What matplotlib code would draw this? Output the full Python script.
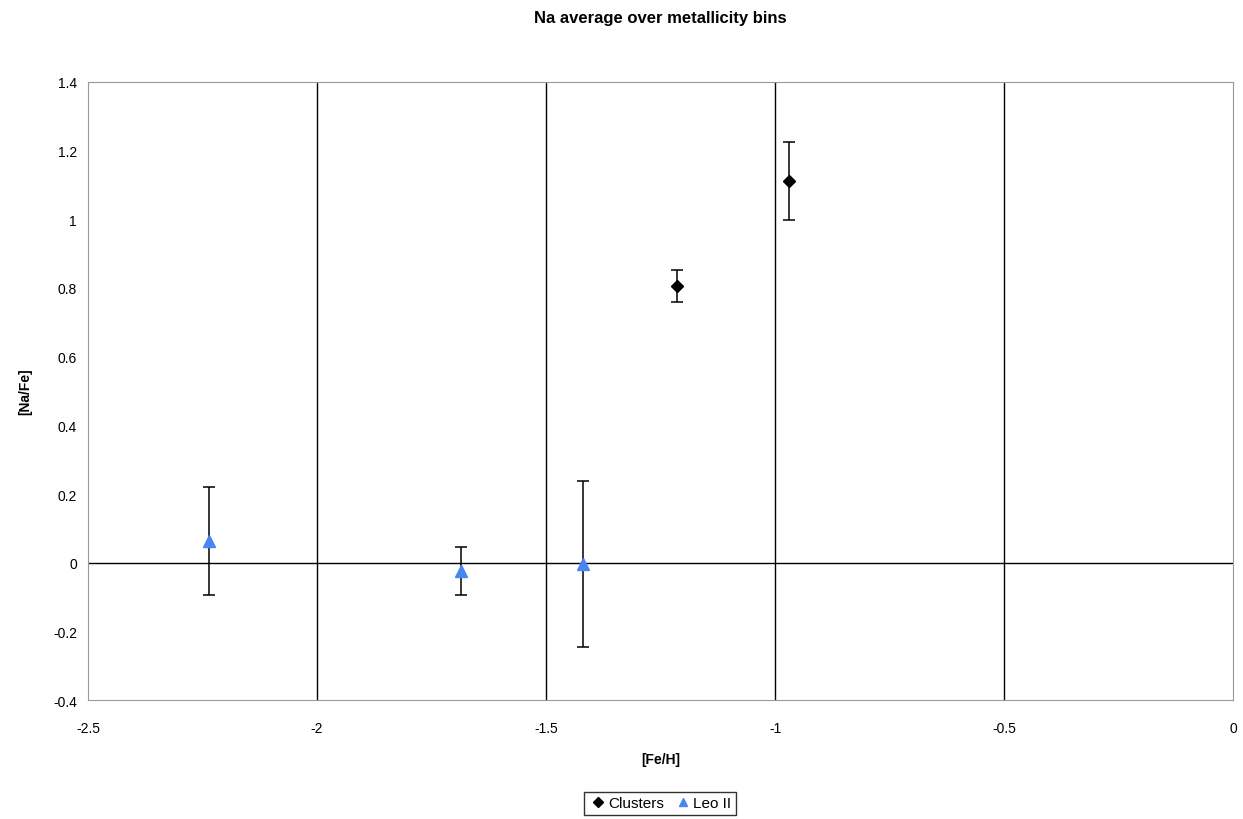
import numpy as np
import matplotlib
matplotlib.use("Agg")
from matplotlib import pyplot as plt

plt.rcParams['font.family'] = ['Liberation Sans', 'DejaVu Sans']

# Clusters
cl_feh = [-1.214, -0.969]
cl_na = [0.806, 1.112]
cl_err = [0.047, 0.114]

# Leo II
leo_feh = [-2.236, -1.686, -1.419]
leo_na = [0.064, -0.025, -0.005]
leo_err = [0.157, 0.070, 0.242]

fig = plt.figure(figsize=(12.43, 8.20), dpi=100)
ax = fig.add_axes([0.0708, 0.1451, 0.9212, 0.7537])

ax.set_xlim(-2.5, 0)
ax.set_ylim(-0.4, 1.4)
ax.set_xticks(np.arange(-2.5, 0.01, 0.5))
ax.set_yticks(np.arange(-0.4, 1.41, 0.2))
ax.set_xticklabels(["-2.5", "-2", "-1.5", "-1", "-0.5", "0"])
ax.set_yticklabels(["-0.4", "-0.2", "0", "0.2", "0.4", "0.6", "0.8", "1", "1.2", "1.4"])

for x in [-2, -1.5, -1, -0.5]:
    ax.axvline(x, color="black", lw=1.0, zorder=1)
ax.axhline(0, color="black", lw=1.0, zorder=1)

for s in ax.spines.values():
    s.set_color("#999999")
ax.tick_params(axis="x", length=0, labelsize=10, pad=15)
ax.tick_params(axis="y", length=0, labelsize=10, pad=8)

ax.errorbar(cl_feh, cl_na, yerr=cl_err, fmt="D", color="black", ms=6,
            ecolor="black", elinewidth=1.1, capsize=4.5, capthick=1.1,
            label="Clusters", zorder=3)
ax.errorbar(leo_feh, leo_na, yerr=leo_err, fmt="^", color="#4a86f0", ms=8,
            ecolor="black", elinewidth=1.1, capsize=4.5, capthick=1.1,
            label="Leo II", zorder=3)

ax.set_title("Na average over metallicity bins", fontsize=12, fontweight="bold", pad=43)
ax.set_xlabel("[Fe/H]", fontsize=10, fontweight="bold", labelpad=12)
ax.set_ylabel("[Na/Fe]", fontsize=10, fontweight="bold", labelpad=15)

handles, labels = ax.get_legend_handles_labels()
handles = [h[0] for h in handles]
leg = fig.legend(handles, labels, loc="center", bbox_to_anchor=(0.531, 0.019), ncol=2,
                 frameon=True, fancybox=False, edgecolor="black", fontsize=11,
                 handletextpad=0.1, columnspacing=0.6, handlelength=1.2,
                 borderpad=0.3, markerscale=0.8)
leg.get_frame().set_linewidth(1.0)

fig.savefig("out.png", dpi=100)
